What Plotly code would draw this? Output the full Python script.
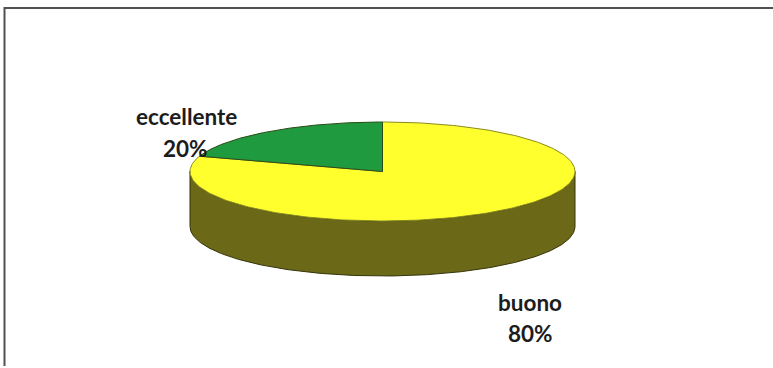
import numpy as np
import plotly.graph_objects as go

categories = ["eccellente", "buono"]
shares = [20, 80]

# Projected pie geometry on a pixel-like plot area
CX, CY, RX, RY, DEPTH = 382.5, 171.5, 192.5, 49.5, 55


def rim(start, stop, n=240):
    """Ellipse rim between two clock angles (degrees, clockwise from 12 o'clock)."""
    a = np.radians(np.linspace(start, stop, n))
    return CX + RX * np.sin(a), CY - RY * np.cos(a)


def wedge_trace(start, stop, color, edge):
    x, y = rim(start, stop)
    return go.Scatter(
        x=np.r_[CX, x, CX], y=np.r_[CY, y, CY], mode="lines", fill="toself",
        fillcolor=color, line=dict(color=edge, width=1), hoverinfo="skip",
    )


green_sweep = 360 * shares[0] / sum(shares)

# Cylinder wall: the front half of the rim, swept down by the depth
fx, fy = rim(90, 270)
wall = go.Scatter(
    x=np.r_[fx, fx[::-1], fx[0]], y=np.r_[fy, fy[::-1] + DEPTH, fy[0]],
    mode="lines", fill="toself", fillcolor="#6b6918",
    line=dict(color="#34340c", width=1), hoverinfo="skip",
)

fig = go.Figure([
    wall,
    wedge_trace(0, 360 - green_sweep, "#ffff2e", "#8a8a20"),
    wedge_trace(360 - green_sweep, 360, "#1f9a3e", "#2c4a18"),
])

font = dict(family="Lato, Carlito, sans-serif", size=22.5, color="#1c1c1c", weight=700)
annotations = [
    dict(x=186, y=116, text=categories[0]),
    dict(x=185, y=148, text=f"{shares[0]}%"),
    dict(x=530, y=302, text=categories[1]),
    dict(x=530, y=333, text=f"{shares[1]}%"),
]

fig.update_layout(
    width=773, height=368, margin=dict(l=0, r=0, t=0, b=0),
    paper_bgcolor="white", plot_bgcolor="white", showlegend=False,
    xaxis=dict(range=[0, 773], visible=False),
    yaxis=dict(range=[368, 0], visible=False),
    annotations=[dict(a, xref="x", yref="y", showarrow=False, font=font) for a in annotations],
    shapes=[dict(type="path", xref="x", yref="y",
                 path="M4.5,366 L4.5,8 L773,8",
                 line=dict(color="#505050", width=2))],
)

fig.write_html("out.html", config=dict(displayModeBar=False))
